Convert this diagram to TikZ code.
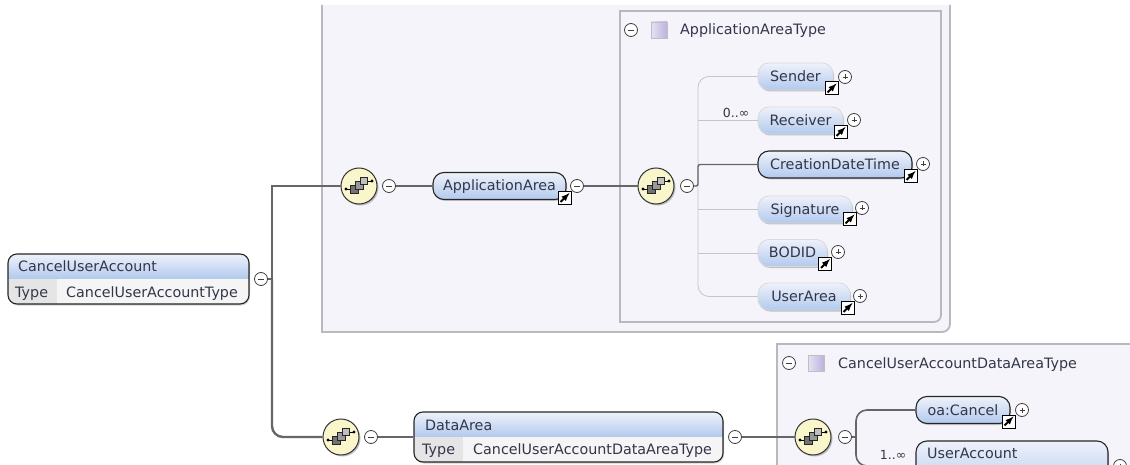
\documentclass[tikz,border=0pt]{standalone}
\usepackage{fontspec}
\setmainfont{DejaVu Sans}
\usepackage{xcolor}
\usetikzlibrary{arrows,calc,shadows}
\definecolor{boxfill}{HTML}{F5F4FA}
\definecolor{boxline}{HTML}{B9B9BD}
\definecolor{trunk}{HTML}{666666}
\definecolor{textcol}{HTML}{33364A}
\definecolor{elemtop}{HTML}{EEF2FA}
\definecolor{elembot}{HTML}{B2C9EE}
\definecolor{seqfill}{HTML}{FAF6CC}
\definecolor{swatchleft}{HTML}{E6E2F4}
\definecolor{swatchright}{HTML}{BDB2DE}
\tikzset{
	elemreq/.style={draw=black!85,line width=1.1pt,rounded corners=11pt,top color=elemtop,bottom color=elembot,minimum height=27pt,inner sep=0pt,drop shadow={shadow xshift=1pt,shadow yshift=-1.5pt,opacity=.35}},
	elemopt/.style={draw=gray!30,line width=.8pt,rounded corners=11pt,top color=elemtop,bottom color=elembot,minimum height=27pt,inner sep=0pt,drop shadow={shadow xshift=1pt,shadow yshift=-1.5pt,opacity=.45}},
	typedelem/.style={draw=black!85,line width=1.1pt,rounded corners=9pt,top color=elemtop,bottom color=elembot,middle color=elembot,minimum height=50pt,inner sep=0pt,drop shadow={shadow xshift=1pt,shadow yshift=-1.5pt,opacity=.35},
		path picture={\fill[black!4,sharp corners] (path picture bounding box.west) rectangle (path picture bounding box.south east);
			\fill[black!10,sharp corners] (path picture bounding box.west) rectangle ([xshift=#1]path picture bounding box.south west);}},
	seqnode/.style={circle,draw=black!80,line width=1pt,fill=seqfill,minimum size=36pt,inner sep=0pt,drop shadow={shadow xshift=1.5pt,shadow yshift=-1.5pt,opacity=.5}},
	minusbtn/.style={circle,draw=black!75,line width=.8pt,fill=white,minimum size=13pt,inner sep=0pt,
		path picture={\draw[line width=.8pt] ([xshift=3.5pt]path picture bounding box.west) -- ([xshift=-3.5pt]path picture bounding box.east);}},
	plusbtn/.style={circle,draw=black!75,line width=.8pt,fill=white,minimum size=13pt,inner sep=0pt,
		path picture={\draw[line width=.7pt] ([xshift=4pt]path picture bounding box.west) -- ([xshift=-4pt]path picture bounding box.east);
			\draw[line width=.7pt] ([yshift=-4pt]path picture bounding box.north) -- ([yshift=4pt]path picture bounding box.south);}},
	linkbox/.style={rectangle,draw=black,line width=1pt,fill=white,minimum size=13pt,inner sep=0pt,
		path picture={\draw[-latex,line width=1.8pt] ([shift={(2.5pt,2.5pt)}]path picture bounding box.south west) -- ([shift={(-1.5pt,-1.5pt)}]path picture bounding box.north east);}},
	swatch/.style={rectangle,draw=gray!50,left color=swatchleft,right color=swatchright,minimum size=16pt,inner sep=0pt},
	txt/.style={font=\fontsize{14.3}{16}\selectfont,text=textcol,inner sep=0pt,text height=10pt,text depth=3pt,yshift=-1.5pt},
	cardtxt/.style={font=\fontsize{12.5}{14}\selectfont,text=textcol,inner sep=0pt},
	boldline/.style={draw=trunk,line width=1.4pt},
	trunkline/.style={draw=trunk,line width=2.4pt},
	faintline/.style={draw=gray!45,line width=.8pt,rounded corners=11pt},
	seqicon/.pic={
		\draw[line width=.9pt] (-13,3) -- (-6,3) (6,-5) -- (13,-5);
		\fill (-13,3) circle (1.7) (13,-5) circle (1.7);
		\draw[black!85,line width=.8pt,fill=black!55] (-9,-1) rectangle (-1,7);
		\draw[black!85,line width=.8pt,fill=black!40] (-4,-5) rectangle (4,3);
		\draw[black!85,line width=.8pt,fill=black!25] (1,-9) rectangle (8,-2);
	}
}
\begin{document}
\begin{tikzpicture}[x=1pt,y=-1pt]
	\useasboundingbox (0,0) rectangle (1130,465);
	\clip (0,0) rectangle (1130,465);
	
	% grey frames
	\fill[boxfill] (322,5) -- (950,5) -- (950,324) [rounded corners=8pt] -- (950,332) [sharp corners] -- (322,332) -- cycle;
	\draw[boxline,line width=1.8pt] (322,5) -- (322,332) [rounded corners=8pt] -- (950,332) [sharp corners] -- (950,5); % outer frame
	\draw[boxline,line width=1.8pt,fill=boxfill] (620,11) -- (941,11) [rounded corners=7pt] -- (941,322) [sharp corners] -- (620,322) -- cycle; % ApplicationAreaType frame
	\draw[boxline,line width=1.8pt,fill=boxfill] (1140,344) -- (777,344) -- (777,475) -- (1140,475); % DataAreaType frame
	\shade[left color=boxfill,middle color=gray!55,right color=boxfill] (625,48) rectangle (862,49); % rule under title
	\shade[left color=boxfill,middle color=gray!55,right color=boxfill] (782,381) rectangle (1052,382); % rule under title
	
	% root element
	\node[typedelem=49pt,minimum width=241pt] (Root) at (128.5,279) {};
	\node[txt,anchor=west] (RootName) at (18,267) {CancelUserAccount};
	\node[txt,anchor=west] (RootKey) at (15,292) {Type};
	\node[txt,anchor=west] (RootType) at (66,292) {CancelUserAccountType};
	\node[minusbtn] (RootMinus) at (261,279) {};
	\coordinate (Fork) at (272,279);
	
	% upper branch
	\node[seqnode] (SeqApp) at (359,186) {};
	\pic at (SeqApp) {seqicon};
	\node[minusbtn] (SeqAppMinus) at (389,186) {};
	\node[elemreq,minimum width=133pt] (AppArea) at (499.5,186) {};
	\node[txt] (AppAreaName) at (AppArea) {ApplicationArea};
	\node[linkbox] (AppAreaLink) at (564.5,198) {};
	\node[minusbtn] (AppAreaMinus) at (577,186) {};
	
	% ApplicationAreaType
	\node[minusbtn] (AppTypeMinus) at (631,30) {};
	\node[swatch] (AppTypeSwatch) at (659,30) {};
	\node[txt,anchor=west] (AppTypeName) at (680,30) {ApplicationAreaType};
	\node[seqnode] (SeqType) at (656,186) {};
	\pic at (SeqType) {seqicon};
	\node[minusbtn] (SeqTypeMinus) at (687,186) {};
	\coordinate (ForkApp) at (698,186);
	
	\node[elemopt,minimum width=75pt] (Sender) at (795.5,76.5) {}; % Sender
	\node[txt] (SenderName) at (Sender) {Sender};
	\node[linkbox] (SenderLink) at (831.5,88.5) {};
	\node[plusbtn] (SenderPlus) at (845,77) {};
	\node[elemopt,minimum width=85pt] (Receiver) at (800.5,120.5) {}; % Receiver
	\node[txt] (ReceiverName) at (Receiver) {Receiver};
	\node[linkbox] (ReceiverLink) at (840.5,132) {};
	\node[plusbtn] (ReceiverPlus) at (854,120) {};
	\node[cardtxt] (ReceiverCard) at (736,113) {0..∞};
	\node[elemreq,minimum width=154pt] (Creation) at (835,164.5) {}; % CreationDateTime
	\node[txt] (CreationName) at (Creation) {CreationDateTime};
	\node[linkbox] (CreationLink) at (910.5,176) {};
	\node[plusbtn] (CreationPlus) at (923,164) {};
	\node[elemopt,minimum width=94pt] (Signature) at (805,209.5) {}; % Signature
	\node[txt] (SignatureName) at (Signature) {Signature};
	\node[linkbox] (SignatureLink) at (849.5,219.5) {};
	\node[plusbtn] (SignaturePlus) at (862,208) {};
	\node[elemopt,minimum width=69pt] (Bodid) at (792.5,253) {}; % BODID
	\node[txt] (BodidName) at (Bodid) {BODID};
	\node[linkbox] (BodidLink) at (825,264) {};
	\node[plusbtn] (BodidPlus) at (838,252) {};
	\node[elemopt,minimum width=92pt] (UserArea) at (804,296.5) {}; % UserArea
	\node[txt] (UserAreaName) at (UserArea) {UserArea};
	\node[linkbox] (UserAreaLink) at (847.5,308) {};
	\node[plusbtn] (UserAreaPlus) at (860,296) {};
	
	% lower branch
	\node[seqnode] (SeqData) at (341,437) {};
	\pic at (SeqData) {seqicon};
	\node[minusbtn] (SeqDataMinus) at (371,437) {};
	\node[typedelem=49pt,minimum width=309pt] (DataArea) at (568.5,437) {};
	\node[txt,anchor=west] (DataAreaName) at (425,425) {DataArea};
	\node[txt,anchor=west] (DataAreaKey) at (422,449) {Type};
	\node[txt,anchor=west] (DataAreaType) at (473,449) {CancelUserAccountDataAreaType};
	\node[minusbtn] (DataAreaMinus) at (735,437) {};
	
	% CancelUserAccountDataAreaType
	\node[minusbtn] (DataTypeMinus) at (789,363) {};
	\node[swatch] (DataTypeSwatch) at (816,363) {};
	\node[txt,anchor=west] (DataTypeName) at (838,363) {CancelUserAccountDataAreaType};
	\node[seqnode] (SeqDataType) at (813,437) {};
	\pic at (SeqDataType) {seqicon};
	\node[minusbtn] (SeqDataTypeMinus) at (845,437) {};
	\coordinate (ForkData) at (856,437);
	\node[elemreq,minimum width=94pt] (Cancel) at (963,410) {}; % oa:Cancel
	\node[txt] (CancelName) at (Cancel) {oa:Cancel};
	\node[linkbox] (CancelLink) at (1008.5,421.5) {};
	\node[plusbtn] (CancelPlus) at (1022,410) {};
	\node[elemreq,minimum width=192pt,minimum height=50pt] (UserAccount) at (1012,466) {}; % UserAccount
	\node[txt,anchor=west] (UserAccountName) at (927,453) {UserAccount};
	\node[plusbtn] (UserAccountPlus) at (1120,466) {};
	\node[cardtxt] (UserAccountCard) at (893,455) {1..∞};
	
	% connectors
	\draw[boldline] (RootMinus) -- (Fork);
	\draw[boldline] (SeqApp.west) -| (Fork); % square corner at the top
	\draw[trunkline] (Fork |- SeqApp) -- (Fork);
	\draw[trunkline,rounded corners=11pt] (Fork) |- (SeqData.west);
	\draw[boldline] (SeqAppMinus) -- (AppArea);
	\draw[boldline] (AppAreaMinus) -- (SeqType);
	\draw[boldline] (SeqDataMinus) -- (DataArea);
	\draw[boldline] (DataAreaMinus) -- (SeqDataType);
	\draw[faintline] (Sender.west) -| (ForkApp) |- (UserArea.west);
	\draw[faintline] (ForkApp |- Receiver) -- (Receiver.west);
	\draw[faintline] (ForkApp |- Signature) -- (Signature.west);
	\draw[faintline] (ForkApp |- Bodid) -- (Bodid.west);
	\draw[boldline,rounded corners=2pt] (SeqTypeMinus) -- (ForkApp) |- (Creation.west);
	\draw[trunkline,line width=1.6pt,rounded corners=11pt] (Cancel.west) -| (ForkData) |- (UserAccount.west);
	\draw[boldline] (SeqDataTypeMinus) -- (ForkData);
\end{tikzpicture}
\end{document}
